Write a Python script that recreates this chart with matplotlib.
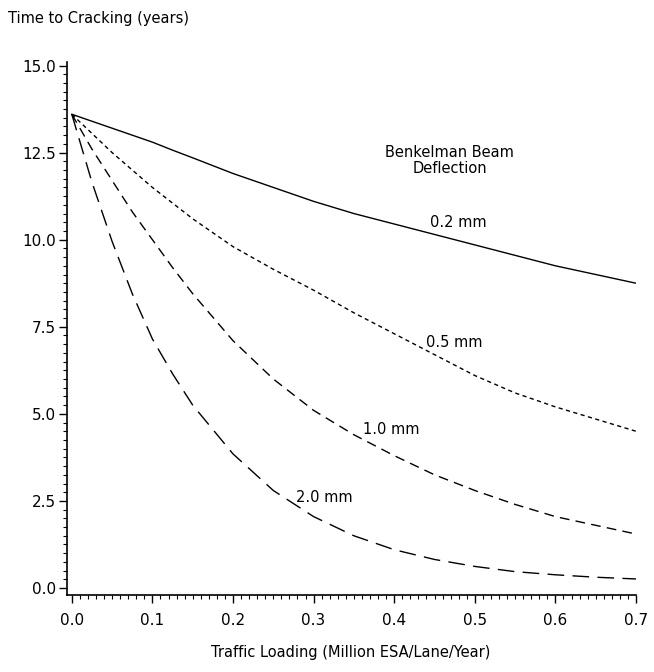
import matplotlib
matplotlib.use("Agg")
import matplotlib.pyplot as plt
from matplotlib.ticker import MultipleLocator, FormatStrFormatter

plt.rcParams['font.family'] = ['DejaVu Sans']

# Traffic loading (million ESA/lane/year)
traffic = [0.0, 0.025, 0.05, 0.075, 0.1, 0.125, 0.15, 0.2, 0.25, 0.3, 0.35, 0.4,
           0.45, 0.5, 0.55, 0.6, 0.65, 0.7]

# Time to cracking (years) for each Benkelman beam deflection
defl_02 = [13.6, 13.4, 13.2, 13.0, 12.8, 12.57, 12.35, 11.9, 11.5, 11.1, 10.75, 10.45,
           10.15, 9.85, 9.55, 9.25, 9.0, 8.75]
defl_05 = [13.6, 13.05, 12.5, 12.0, 11.5, 11.05, 10.6, 9.8, 9.15, 8.55, 7.9, 7.3,
           6.7, 6.1, 5.6, 5.2, 4.85, 4.5]
defl_10 = [13.6, 12.6, 11.7, 10.8, 10.0, 9.2, 8.45, 7.1, 6.0, 5.1, 4.4, 3.8,
           3.25, 2.8, 2.4, 2.05, 1.8, 1.55]
defl_20 = [13.6, 11.65, 9.95, 8.45, 7.15, 6.15, 5.25, 3.85, 2.8, 2.05, 1.5, 1.1,
           0.82, 0.62, 0.47, 0.38, 0.31, 0.26]

curve_labels = ["0.2 mm", "0.5 mm", "1.0 mm", "2.0 mm"]
label_pos_x = [0.48, 0.475, 0.396, 0.313]
label_pos_y = [10.5, 7.05, 4.56, 2.6]

x_ticks = [0.0, 0.1, 0.2, 0.3, 0.4, 0.5, 0.6, 0.7]
y_ticks = [0.0, 2.5, 5.0, 7.5, 10.0, 12.5, 15.0]

fig = plt.figure(figsize=(6.54, 6.72), dpi=100)
ax = fig.add_axes([0.1024, 0.1146, 0.9725 - 0.1024, 0.9077 - 0.1146])

series = [defl_02, defl_05, defl_10, defl_20]
styles = [
    dict(linestyle='-'),
    dict(dashes=(3.0, 2.5)),
    dict(dashes=(7.0, 4.5)),
    dict(dashes=(12.0, 6.0)),
]
for ys, st in zip(series, styles):
    ax.plot(traffic, ys, color='black', linewidth=1.0, **st)

for lab, lx, ly in zip(curve_labels, label_pos_x, label_pos_y):
    ax.text(lx, ly, lab, ha='center', va='center', fontsize=10.5)

ax.text(0.469, 12.5, "Benkelman Beam", ha='center', va='center', fontsize=10.5)
ax.text(0.469, 12.05, "Deflection", ha='center', va='center', fontsize=10.5)

ax.set_xlim(-0.006, 0.7)
ax.set_ylim(-0.2, 15.1)
ax.set_xticks(x_ticks)
ax.set_yticks(y_ticks)
ax.xaxis.set_major_formatter(FormatStrFormatter('%.1f'))
ax.yaxis.set_major_formatter(FormatStrFormatter('%.1f'))
ax.xaxis.set_minor_locator(MultipleLocator(0.01))
ax.yaxis.set_minor_locator(MultipleLocator(0.25))
ax.tick_params(axis='both', which='major', direction='out', length=6, width=1.0,
               labelsize=11, pad=2, colors='black')
ax.tick_params(axis='both', which='minor', direction='out', length=3, width=0.8)
ax.tick_params(axis='x', which='major', pad=7)
for s in ['top', 'right']:
    ax.spines[s].set_visible(False)
for s in ['left', 'bottom']:
    ax.spines[s].set_linewidth(1.2)

fig.text(8 / 654, 1 - 18 / 672, "Time to Cracking (years)", ha='left', va='center', fontsize=10.5)
fig.text(351 / 654, 1 - 652 / 672, "Traffic Loading (Million ESA/Lane/Year)", ha='center',
         va='center', fontsize=10.5)

fig.savefig("out.png", dpi=100)
